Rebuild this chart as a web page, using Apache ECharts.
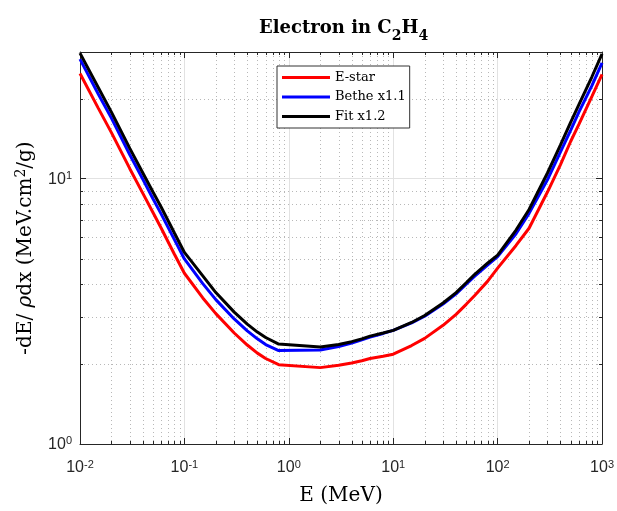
<!DOCTYPE html>
<html>
<head>
<meta charset="utf-8">
<script src="https://cdn.jsdelivr.net/npm/echarts@6/dist/echarts.min.js"></script>
<style>
html, body { margin: 0; padding: 0; background: #fff; }
#main { width: 617px; height: 511px; }
</style>
</head>
<body>
<div id="main"></div>
<script>
// energies (MeV) and stopping powers (MeV.cm2/g)
var energy = [0.01, 0.015, 0.02, 0.03, 0.04, 0.05, 0.06, 0.08, 0.1, 0.15, 0.2, 0.3, 0.4, 0.5, 0.6, 0.8,
              2, 3, 4, 5, 6, 8, 10, 15, 20, 30, 40, 50, 60, 80, 100, 150, 200, 300, 400, 500, 600, 800, 1000];
var estar = [24.9, 18.4, 14.9, 10.9, 8.8, 7.45, 6.5, 5.2, 4.4, 3.55, 3.1, 2.62, 2.36, 2.2, 2.1, 1.99,
             1.94, 1.98, 2.02, 2.06, 2.1, 2.14, 2.18, 2.35, 2.5, 2.8, 3.08, 3.36, 3.62, 4.1, 4.6, 5.6, 6.5, 8.9, 11.3, 13.8, 16.0, 20.4, 24.7];
var bethe = [28.2, 20.8, 16.9, 12.3, 9.95, 8.4, 7.35, 5.9, 4.98, 4.02, 3.5, 2.96, 2.67, 2.49, 2.37, 2.25,
             2.26, 2.33, 2.4, 2.47, 2.53, 2.61, 2.68, 2.86, 3.03, 3.37, 3.68, 4.0, 4.28, 4.72, 5.08, 6.2, 7.4, 9.9, 12.6, 15.2, 17.8, 22.4, 27.3];
var fit = [29.7, 22.0, 17.8, 13.0, 10.5, 8.9, 7.8, 6.25, 5.27, 4.3, 3.72, 3.14, 2.83, 2.64, 2.52, 2.38,
           2.32, 2.37, 2.43, 2.49, 2.55, 2.62, 2.68, 2.87, 3.05, 3.4, 3.72, 4.05, 4.35, 4.8, 5.15, 6.4, 7.65, 10.5, 13.4, 16.3, 19.0, 24.2, 29.5];

var xMin = 0.01, xMax = 1000, yMin = 1, yMax = 30;
var xTickExp = [-2, -1, 0, 1, 2, 3];
var yTickExp = [0, 1];

// minor grid positions (2..9 per decade)
var xMinor = [];
for (var k = -2; k < 3; k++) {
    for (var m = 2; m <= 9; m++) xMinor.push(m * Math.pow(10, k));
}
var yMinor = [2, 3, 4, 5, 6, 7, 8, 9, 20];

var axisColor = '#262626';
var sansFont = 'Liberation Sans';
var serifFont = 'DejaVu Serif';

function pairs(ys) {
    return energy.map(function (e, i) { return [e, ys[i]]; });
}

function powLabel(exps) {
    return function (value) {
        var e = Math.log10(value);
        var r = Math.round(e);
        if (Math.abs(e - r) > 1e-6 || exps.indexOf(r) < 0) return '';
        return '{b|10}{s|' + r + '}';
    };
}

var tickRich = {
    b: { fontFamily: sansFont, fontSize: 16, color: '#262626', lineHeight: 17, verticalAlign: 'bottom', padding: [6, 0, 0, 0] },
    s: { fontFamily: sansFont, fontSize: 11, color: '#262626', lineHeight: 12, verticalAlign: 'top' }
};

function minorGrid(vertical) {
    return function (params, api) {
        var cs = params.coordSys;
        var children;
        if (vertical) {
            var x = Math.round(api.coord([api.value(0), yMin])[0]) + 0.5;
            children = [
                { type: 'line', shape: { x1: x, y1: cs.y, x2: x, y2: cs.y + cs.height }, style: { stroke: '#b8b8b8', lineWidth: 1, lineDash: [1, 3] } },
                { type: 'line', shape: { x1: x, y1: cs.y + cs.height, x2: x, y2: cs.y + cs.height - 3 }, style: { stroke: axisColor, lineWidth: 1 } },
                { type: 'line', shape: { x1: x, y1: cs.y, x2: x, y2: cs.y + 3 }, style: { stroke: axisColor, lineWidth: 1 } }
            ];
        } else {
            var y = Math.round(api.coord([xMin, api.value(1)])[1]) + 0.5;
            children = [
                { type: 'line', shape: { x1: cs.x, y1: y, x2: cs.x + cs.width, y2: y }, style: { stroke: '#b8b8b8', lineWidth: 1, lineDash: [1, 3] } },
                { type: 'line', shape: { x1: cs.x, y1: y, x2: cs.x + 3, y2: y }, style: { stroke: axisColor, lineWidth: 1 } },
                { type: 'line', shape: { x1: cs.x + cs.width, y1: y, x2: cs.x + cs.width - 3, y2: y }, style: { stroke: axisColor, lineWidth: 1 } }
            ];
        }
        return { type: 'group', children: children };
    };
}

var myChart = echarts.init(document.getElementById('main'));

var baseX = {
    type: 'log', logBase: 10, min: xMin, max: xMax,
    axisLine: { show: true, lineStyle: { color: axisColor, width: 1 } },
    axisTick: { show: true, inside: true, length: 6, lineStyle: { color: axisColor } },
    splitLine: { show: false },
    axisLabel: { show: false }
};
var baseY = {
    type: 'log', logBase: 10, min: yMin, max: yMax,
    axisLine: { show: true, lineStyle: { color: axisColor, width: 1 } },
    axisTick: { show: true, inside: true, length: 6, lineStyle: { color: axisColor } },
    splitLine: { show: false },
    axisLabel: { show: false }
};

option = {
    animation: false,
    backgroundColor: '#fff',
    title: {
        text: '{t|Electron in C}{sub|2}{t|H}{sub|4}',
        left: 254,
        top: 14,
        textStyle: {
            rich: {
                t: { fontFamily: serifFont, fontWeight: 'bold', fontSize: 18, color: '#000', lineHeight: 24, verticalAlign: 'top' },
                sub: { fontFamily: serifFont, fontWeight: 'bold', fontSize: 14, color: '#000', lineHeight: 18, verticalAlign: 'bottom', padding: [12, 0, 0, 0] }
            }
        }
    },
    legend: {
        data: ['E-star', 'Bethe x1.1', 'Fit x1.2'],
        orient: 'vertical',
        left: 277,
        top: 66,
        icon: 'rect',
        itemWidth: 48,
        itemHeight: 3,
        itemGap: 4.5,
        padding: [4, 4, 4, 5],
        backgroundColor: '#fff',
        borderColor: '#333',
        borderWidth: 1,
        textStyle: { fontFamily: serifFont, fontSize: 13, lineHeight: 15, color: '#000' }
    },
    grid: { left: 77, right: 13, top: 52, bottom: 57, show: false },
    xAxis: [
        Object.assign({}, baseX, {
            position: 'bottom',
            splitLine: { show: true, lineStyle: { color: '#e2e2e2', width: 1 } },
            axisLabel: { show: true, margin: 15, formatter: powLabel(xTickExp), rich: tickRich },
            name: 'E (MeV)',
            nameLocation: 'middle',
            nameGap: 42,
            nameTextStyle: { fontFamily: serifFont, fontSize: 20, color: '#000' }
        }),
        Object.assign({}, baseX, { position: 'top' })
    ],
    yAxis: [
        Object.assign({}, baseY, {
            position: 'left',
            splitLine: { show: true, lineStyle: { color: '#e2e2e2', width: 1 } },
            axisLabel: { show: true, margin: 8, showMaxLabel: false, formatter: powLabel(yTickExp), rich: tickRich },
            name: '{n|-dE/ }{g|ρ}{n|dx (MeV.cm}{p|2}{n|/g)}',
            nameLocation: 'middle',
            nameGap: 44,
            nameTextStyle: {
                rich: {
                    n: { fontFamily: serifFont, fontSize: 20, color: '#000', lineHeight: 22, verticalAlign: 'bottom', padding: [8, 0, 0, 0] },
                    g: { fontFamily: serifFont, fontStyle: 'italic', fontSize: 20, color: '#000', lineHeight: 22, verticalAlign: 'bottom', padding: [8, 0, 0, 0] },
                    p: { fontFamily: serifFont, fontSize: 14, color: '#000', lineHeight: 16, verticalAlign: 'top' }
                }
            }
        }),
        Object.assign({}, baseY, { position: 'right' })
    ],
    series: [
        { type: 'custom', silent: true, z: 1, renderItem: minorGrid(true), data: xMinor.map(function (v) { return [v, yMin]; }) },
        { type: 'custom', silent: true, z: 1, renderItem: minorGrid(false), data: yMinor.map(function (v) { return [xMin, v]; }) },
        { name: 'E-star', type: 'line', z: 3, symbol: 'none', color: '#ff0000', lineStyle: { width: 3 }, data: pairs(estar) },
        { name: 'Bethe x1.1', type: 'line', z: 3, symbol: 'none', color: '#0000ff', lineStyle: { width: 3 }, data: pairs(bethe) },
        { name: 'Fit x1.2', type: 'line', z: 3, symbol: 'none', color: '#000000', lineStyle: { width: 3 }, data: pairs(fit) }
    ]
};

myChart.setOption(option);
</script>
</body>
</html>
